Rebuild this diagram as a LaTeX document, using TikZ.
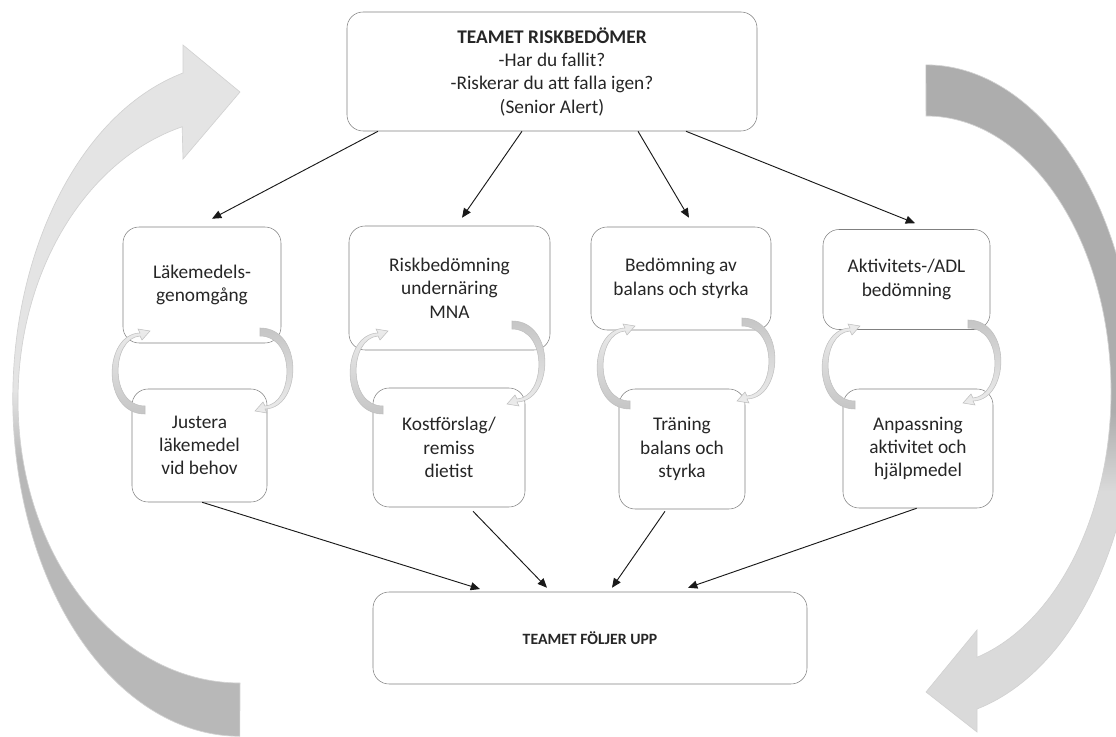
\documentclass[tikz,border=0pt]{standalone}
\usepackage{fontspec}
\setmainfont{Carlito}
\usepackage{tikz}
\usetikzlibrary{arrows.meta}

\definecolor{bigdark}{HTML}{B8B8B8}
\definecolor{biglight}{HTML}{E4E4E4}
\definecolor{rightdark}{HTML}{ADADAD}
\definecolor{rightlight}{HTML}{DADADA}
\pgfdeclareverticalshading{leftbig}{100bp}{color(0bp)=(bigdark); color(45bp)=(bigdark); color(50bp)=(biglight); color(100bp)=(biglight)}
\pgfdeclareverticalshading{rightbig}{100bp}{color(0bp)=(rightlight); color(43bp)=(rightlight); color(49bp)=(rightdark); color(100bp)=(rightdark)}

\begin{document}
\begin{tikzpicture}[x=0.75pt,y=-0.75pt,
    box/.style={draw=black!50,rounded corners=12pt,align=center,text=black!85,
        font=\fontsize{14.5}{17.5}\selectfont},
    conn/.style={-{Triangle[length=7pt,width=6pt]},black!90,line width=0.7pt},
    loopshade/.style={draw=gray!50,line width=0.4pt}]
    \useasboundingbox (0,0) rectangle (1116,737);
    % big arrows round the whole
    \shade[shading=leftbig,draw=gray!35,line width=0.5pt] (240,683)
        arc[start angle=90,end angle=254.9,x radius=222,y radius=283]
        -- (183,159) -- (240,92) -- (183,45) -- (183,73)
        arc[start angle=255.5,end angle=90,x radius=227,y radius=337] -- cycle;
    \shade[shading=rightbig,draw=gray!35,line width=0.5pt] (926,116)
        arc[start angle=-90,end angle=74,x radius=185,y radius=276]
        -- (977,630) -- (926,692) -- (977,732) -- (977,709)
        arc[start angle=75.9,end angle=-90,x radius=210,y radius=327] -- cycle;

    \node[box,minimum width=307.5pt,minimum height=89.25pt] (risk) at (552,71.5)
        {{\bfseries TEAMET RISKBEDÖMER}\\-Har du fallit?\\-Riskerar du att falla igen?\\(Senior Alert)};

    \node[box,minimum width=118.5pt,minimum height=87pt] (lak) at (202,285) {Läkemedels-\\genomgång};
    \node[box,minimum width=150.75pt,minimum height=93pt] (mna) at (449.5,288) {Riskbedömning\\undernäring\\MNA};
    \node[box,minimum width=135pt,minimum height=77.25pt] (bal) at (681,278.5) {Bedömning av\\balans och styrka};
    \node[box,minimum width=125.25pt,minimum height=75pt] (adl) at (906.5,279.5) {Aktivitets-/ADL\\bedömning};

    \node[box,minimum width=101.25pt,minimum height=84.75pt] (just) at (199.5,445.5) {Justera\\läkemedel\\vid behov};
    \node[box,minimum width=114pt,minimum height=89.25pt] (kost) at (449,447.5) {Kostförslag/\\remiss\\dietist};
    \node[box,minimum width=94.5pt,minimum height=90pt] (tran) at (682,449) {Träning\\balans och\\styrka};
    \node[box,minimum width=112.5pt,minimum height=89.25pt] (anp) at (918,448.5) {Anpassning\\aktivitet och\\hjälpmedel};

    \node[box,minimum width=325.5pt,minimum height=69pt] (folj) at (590,638)
        {\fontsize{11.8}{14}\selectfont\bfseries TEAMET FÖLJER UPP};

    % small loops between the boxes
    \foreach \tx/\ty in {145/410,383/410,630/405,855/405}
        \shade[loopshade,top color=gray!15,bottom color=gray!45,shift={(\tx,\ty)}]
            (0,4) .. controls (-44,4) and (-42,-76) .. (-5,-77) -- (-7,-81) -- (5,-79)
            -- (-3,-70) -- (-5,-74) .. controls (-34,-72) and (-36,-4) .. (0,-4) -- cycle;
    \foreach \tx/\ty in {260/332,512/325,742/322,968/324}
        \shade[loopshade,top color=gray!45,bottom color=gray!15,shift={(\tx,\ty)},rotate=180]
            (0,4) .. controls (-44,4) and (-42,-76) .. (-5,-77) -- (-7,-81) -- (5,-79)
            -- (-3,-70) -- (-5,-74) .. controls (-34,-72) and (-36,-4) .. (0,-4) -- cycle;

    \draw[conn] ([xshift=-130.5pt]risk.south) -- ([xshift=7.5pt,yshift=6pt]lak.north);
    \draw[conn] ([xshift=-22.5pt]risk.south) -- ([xshift=9.4pt,yshift=6pt]mna.north);
    \draw[conn] ([xshift=64.5pt]risk.south) -- ([xshift=6pt,yshift=6.75pt]bal.north);
    \draw[conn] ([xshift=100.5pt]risk.south) -- ([xshift=6.4pt,yshift=4.5pt]adl.north);

    \draw[conn] ([xshift=2pt]just.south) -- ([xshift=-82.5pt,yshift=2pt]folj.north);
    \draw[conn] ([xshift=18pt,yshift=-3pt]kost.south) -- ([xshift=-32.25pt,yshift=3pt]folj.north);
    \draw[conn] ([xshift=-12.75pt,yshift=-1.5pt]tran.south) -- ([xshift=16.5pt,yshift=3pt]folj.north);
    \draw[conn] ([xshift=-1pt]anp.south) -- ([xshift=73.5pt,yshift=3pt]folj.north);
\end{tikzpicture}
\end{document}
